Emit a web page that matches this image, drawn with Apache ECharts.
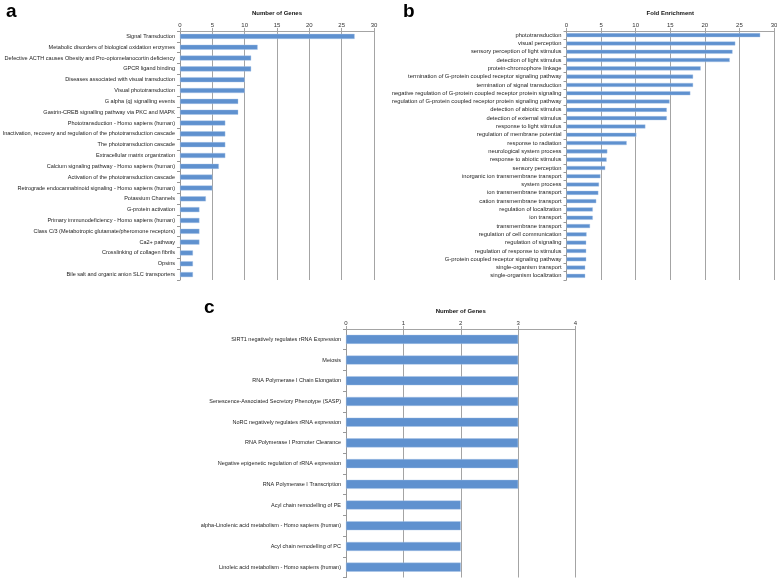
<!DOCTYPE html>
<html>
<head>
<meta charset="utf-8">
<script src="https://cdn.jsdelivr.net/npm/echarts@6/dist/echarts.min.js"></script>
<style>
html,body{margin:0;padding:0;background:#fff;}
#chart{width:777px;height:578px;}
</style>
</head>
<body>
<div id="chart"></div>
<script>
var catsA = [
  "Signal Transduction",
  "Metabolic disorders of biological oxidation enzymes",
  "Defective ACTH causes Obesity and Pro-opiomelanocortin deficiency",
  "GPCR ligand binding",
  "Diseases associated with visual transduction",
  "Visual phototransduction",
  "G alpha (q) signalling events",
  "Gastrin-CREB signalling pathway via PKC and MAPK",
  "Phototransduction - Homo sapiens (human)",
  "Inactivation, recovery and regulation of the phototransduction cascade",
  "The phototransduction cascade",
  "Extracellular matrix organization",
  "Calcium signaling pathway - Homo sapiens (human)",
  "Activation of the phototransduction cascade",
  "Retrograde endocannabinoid signaling - Homo sapiens (human)",
  "Potassium Channels",
  "G-protein activation",
  "Primary immunodeficiency - Homo sapiens (human)",
  "Class C/3 (Metabotropic glutamate/pheromone receptors)",
  "Ca2+ pathway",
  "Crosslinking of collagen fibrils",
  "Opsins",
  "Bile salt and organic anion SLC transporters"
];
var valsA = [27, 12, 11, 11, 10, 10, 9, 9, 7, 7, 7, 7, 6, 5, 5, 4, 3, 3, 3, 3, 2, 2, 2];

var catsB = [
  "phototransduction",
  "visual perception",
  "sensory perception of light stimulus",
  "detection of light stimulus",
  "protein-chromophore linkage",
  "termination of G-protein coupled receptor signaling pathway",
  "termination of signal transduction",
  "negative regulation of G-protein coupled receptor protein signaling",
  "regulation of G-protein coupled receptor protein signaling pathway",
  "detection of abiotic stimulus",
  "detection of external stimulus",
  "response to light stimulus",
  "regulation of membrane potential",
  "response to radiation",
  "neurological system process",
  "response to abiotic stimulus",
  "sensory perception",
  "inorganic ion transmembrane transport",
  "system process",
  "ion transmembrane transport",
  "cation transmembrane transport",
  "regulation of localization",
  "ion transport",
  "transmembrane transport",
  "regulation of cell communication",
  "regulation of signaling",
  "regulation of response to stimulus",
  "G-protein coupled receptor signaling pathway",
  "single-organism transport",
  "single-organism localization"
];
var valsB = [28, 24.4, 24.0, 23.6, 19.4, 18.3, 18.3, 17.9, 14.9, 14.5, 14.5, 11.4, 10.1, 8.7,
             5.9, 5.8, 5.6, 4.9, 4.7, 4.6, 4.3, 3.8, 3.8, 3.4, 2.9, 2.85, 2.85, 2.85, 2.7, 2.7];

var catsC = [
  "SIRT1 negatively regulates rRNA Expression",
  "Meiosis",
  "RNA Polymerase I Chain Elongation",
  "Senescence-Associated Secretory Phenotype (SASP)",
  "NoRC negatively regulates rRNA expression",
  "RNA Polymerase I Promoter Clearance",
  "Negative epigenetic regulation of rRNA expression",
  "RNA Polymerase I Transcription",
  "Acyl chain remodelling of PE",
  "alpha-Linolenic acid metabolism - Homo sapiens (human)",
  "Acyl chain remodelling of PC",
  "Linoleic acid metabolism - Homo sapiens (human)"
];
var valsC = [3, 3, 3, 3, 3, 3, 3, 3, 2, 2, 2, 2];

var titleA = "Number of Genes";
var titleB = "Fold Enrichment";
var titleC = "Number of Genes";

var FONT = "Liberation Sans";
var GRID_COLOR = "#a4a4a4";
var BAR_COLOR = "#5f91cf";

function xAx(idx, max, interval, name) {
  return {
    gridIndex: idx, type: "value", position: "top", min: 0, max: max, interval: interval,
    name: name, nameLocation: "middle", nameGap: 15,
    nameTextStyle: {fontFamily: FONT, fontSize: 6, fontWeight: "bold", color: "#111"},
    axisLine: {show: true, lineStyle: {color: GRID_COLOR, width: 1}},
    axisTick: {show: true, length: 3, lineStyle: {color: GRID_COLOR}},
    axisLabel: {fontFamily: FONT, fontSize: 6, color: "#333", margin: 3},
    splitLine: {show: true, lineStyle: {color: GRID_COLOR, width: 1}}
  };
}
function yAx(idx, cats, fs) {
  return {
    gridIndex: idx, type: "category", data: cats, inverse: true,
    axisLine: {show: true, lineStyle: {color: "#999", width: 1}},
    axisTick: {show: true, length: 3, lineStyle: {color: "#999"}},
    axisLabel: {fontFamily: FONT, fontSize: fs, color: "#222", margin: 5, interval: 0},
    splitLine: {show: false}
  };
}
function bar(idx, vals, w) {
  return {
    type: "bar", xAxisIndex: idx, yAxisIndex: idx, data: vals, barWidth: w,
    itemStyle: {color: BAR_COLOR, borderColor: "#a9c5e8", borderWidth: 0.4},
    silent: true, animation: false
  };
}

var chart = echarts.init(document.getElementById("chart"), null, {renderer: "canvas"});
chart.setOption({
  animation: false,
  backgroundColor: "#fff",
  title: [
    {text: "a", left: 1, top: -3, textStyle: {fontFamily: FONT, fontSize: 19, fontWeight: "bold", color: "#000"}},
    {text: "b", left: 398, top: -3, textStyle: {fontFamily: FONT, fontSize: 19, fontWeight: "bold", color: "#000"}},
    {text: "c", left: 199, top: 293, textStyle: {fontFamily: FONT, fontSize: 19, fontWeight: "bold", color: "#000"}}
  ],
  grid: [
    {left: 180, top: 31, width: 194, height: 249, containLabel: false, outerBoundsMode: "none"},
    {left: 566.5, top: 31, width: 207.5, height: 249, containLabel: false, outerBoundsMode: "none"},
    {left: 346, top: 329, width: 229.5, height: 248.5, containLabel: false, outerBoundsMode: "none"}
  ],
  xAxis: [xAx(0, 30, 5, titleA), xAx(1, 30, 5, titleB), xAx(2, 4, 1, titleC)],
  yAxis: [yAx(0, catsA, 5.55), yAx(1, catsB, 5.8), yAx(2, catsC, 5.5)],
  series: [bar(0, valsA, 5), bar(1, valsB, 4), bar(2, valsC, 9)]
});
</script>
</body>
</html>
